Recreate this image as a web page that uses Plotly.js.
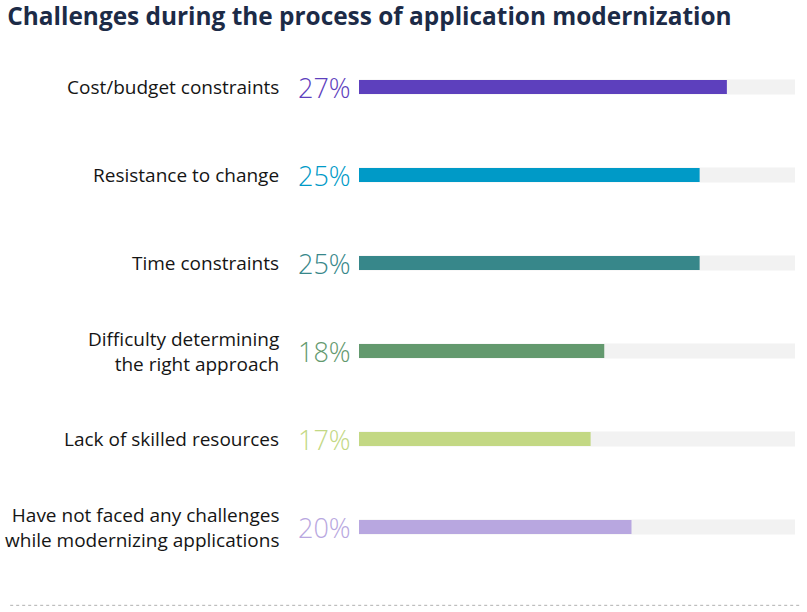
<!DOCTYPE html>
<html><head><meta charset="utf-8">
<script src="https://cdn.plot.ly/plotly-3.0.1.min.js"></script>
<style>html,body{margin:0;padding:0;background:#fff;}#chart{width:807px;height:612px;}</style>
</head><body><div id="chart"></div>
<script>
const categories = ["Cost/budget constraints","Resistance to change","Time constraints","Difficulty determining<br>the right approach","Lack of skilled resources","Have not faced any challenges<br>while modernizing applications"];
const values = [27,25,25,18,17,20];
const colors = ["#5d40bd","#009ac7","#37878a","#63996e","#c3d884","#b8a7e0"];
const trackMax = 32;

const ids = categories.map((c,i)=>"c"+i);
const track = {type:'bar',orientation:'h',y:ids,x:ids.map(()=>trackMax),width:0.17,marker:{color:'#f2f2f2'},hoverinfo:'skip',showlegend:false};
const bars = {type:'bar',orientation:'h',y:ids,x:values,width:0.16,marker:{color:colors},hoverinfo:'skip',showlegend:false};

const annotations = [];
categories.forEach((c,i)=>{
  annotations.push({xref:'paper',yref:'y',x:-0.18,y:ids[i],text:c,xanchor:'right',yanchor:'middle',align:'right',showarrow:false,font:{family:'Open Sans',size:19,color:'#151515'}});
  annotations.push({xref:'paper',yref:'y',x:-0.014,y:ids[i],text:values[i]+'%',xanchor:'right',yanchor:'middle',showarrow:false,font:{family:'Open Sans',size:27,weight:300,color:colors[i]}});
});

const layout = {
  width:807,height:612,
  margin:{l:359,r:12,t:43,b:41},
  paper_bgcolor:'#fff',plot_bgcolor:'#fff',
  barmode:'overlay',
  title:{text:'<b>Challenges during the process of application modernization</b>',x:0.009,xanchor:'left',xref:'container',y:0.973,yanchor:'middle',yref:'container',font:{family:'Open Sans',size:24.4,color:'#1c2b47'}},
  xaxis:{range:[0,trackMax],visible:false,fixedrange:true},
  yaxis:{autorange:'reversed',visible:false,fixedrange:true},
  annotations:annotations,
  shapes:[{type:'line',xref:'paper',yref:'paper',x0:-0.8,x1:1.01,y0:-0.065,y1:-0.065,line:{color:'#b0b0b0',width:1,dash:'dot'}}]
};
Plotly.newPlot('chart',[track,bars],layout,{displayModeBar:false,staticPlot:true});
</script></body></html>
